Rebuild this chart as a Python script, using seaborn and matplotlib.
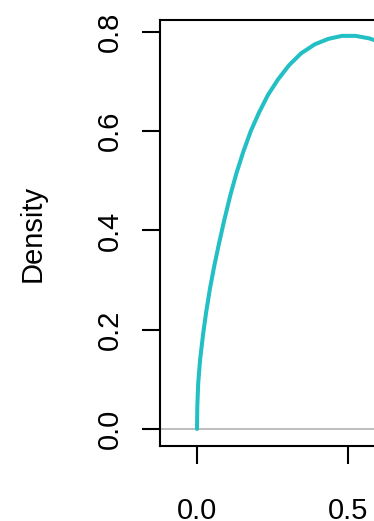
import matplotlib
matplotlib.use("Agg")
import matplotlib.pyplot as plt
import seaborn as sns
import pandas as pd

# Density curve
x_vals = [0.0, 0.001, 0.004, 0.010, 0.020, 0.030, 0.043, 0.057, 0.073, 0.090,
          0.110, 0.130, 0.153, 0.178, 0.205, 0.235, 0.268, 0.305, 0.345,
          0.390, 0.435, 0.480, 0.525, 0.570, 0.620, 0.660]
density = [0.0, 0.045, 0.092, 0.138, 0.190, 0.234, 0.283, 0.328, 0.374, 0.420,
           0.470, 0.514, 0.558, 0.600, 0.637, 0.673, 0.704, 0.733, 0.757,
           0.775, 0.786, 0.792, 0.792, 0.787, 0.777, 0.766]

x_ticks = [0.0, 0.5, 1.0]
x_tick_labels = ["0.0", "0.5", "1.0"]
y_ticks = [0.0, 0.2, 0.4, 0.6, 0.8]
y_tick_labels = ["0.0", "0.2", "0.4", "0.6", "0.8"]

sns.set_style("white")
plt.rcParams['font.family'] = ['Liberation Sans', 'DejaVu Sans']

W, H = 374, 521
fig = plt.figure(figsize=(W / 100, H / 100), dpi=100)

px_per_x = 302.0
xlo, xhi = -0.1225, 1.2
ax_w_px = (xhi - xlo) * px_per_x
ax = fig.add_axes([160 / W, 75 / H, ax_w_px / W, 426 / H])

df = pd.DataFrame({"x": x_vals, "Density": density})
ax.axhline(0, color="#BEBEBE", lw=1.4, zorder=1)
sns.lineplot(data=df, x="x", y="Density", ax=ax, color="#22BFC4", lw=2.9,
             sort=False, zorder=2)

ax.set_xlim(xlo, xhi)
ax.set_ylim(-0.0343, 0.824)

for s in ax.spines.values():
    s.set_color("black")
    s.set_linewidth(1.5)
    s.set_visible(True)

ax.set_xticks(x_ticks)
ax.set_xticklabels(x_tick_labels, fontsize=21, color="black")
ax.set_yticks(y_ticks)
ax.set_yticklabels(y_tick_labels, fontsize=21, rotation=90, va="center",
                   color="black")
ax.tick_params(axis="both", direction="out", length=13, width=1.5,
               color="black", bottom=True, left=True)
ax.tick_params(axis="x", pad=24)
ax.tick_params(axis="y", pad=13)

ax.set_xlabel("")
ax.set_ylabel("Density", fontsize=21, va="center", color="black")
ax.yaxis.set_label_coords((33 - 160) / ax_w_px, 0.5)

fig.savefig("out.png", dpi=100)
